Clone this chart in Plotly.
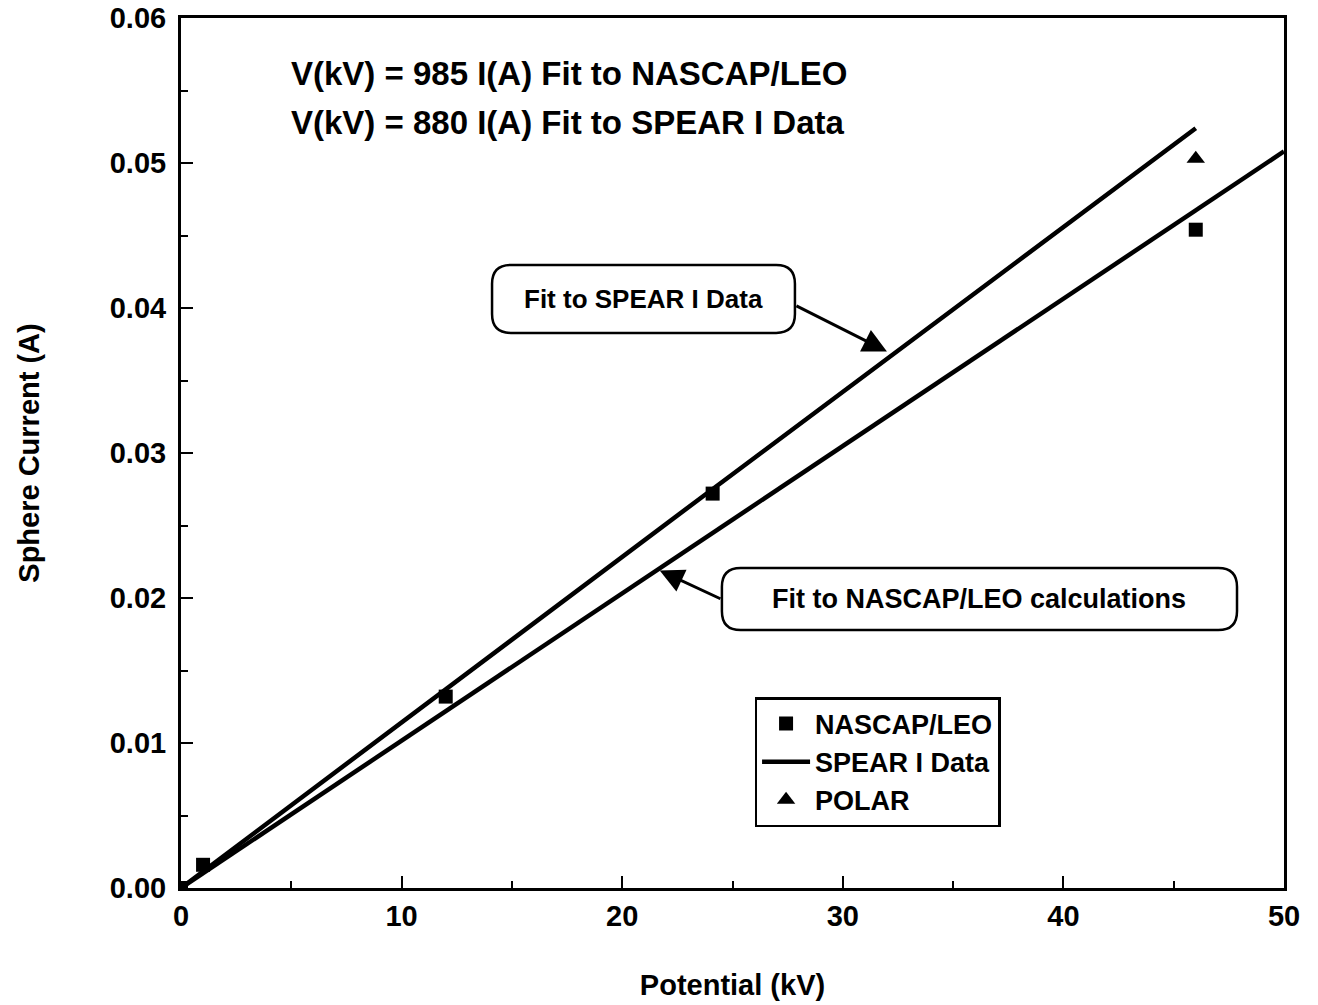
import plotly.graph_objects as go

# ---- data ----
nascap_kv = [0, 1, 12, 24.1, 46]
nascap_a = [0.0, 0.0016, 0.0132, 0.0272, 0.0454]

polar_kv = [46]
polar_a = [0.0503]

spear_fit_kv = [0, 12, 24, 46]
spear_fit_a = [0.0, 0.0137, 0.0274, 0.0524]

nascap_fit_kv = [0, 50]
nascap_fit_a = [0.0, 0.0508]

x_ticks = [0, 10, 20, 30, 40, 50]
y_ticks = [0.00, 0.01, 0.02, 0.03, 0.04, 0.05, 0.06]

FONT = "Liberation Sans"
BLACK = "black"

fig = go.Figure()

fig.add_trace(go.Scatter(x=nascap_fit_kv, y=nascap_fit_a, mode="lines",
                         line=dict(color=BLACK, width=4.5), showlegend=False,
                         name="Fit to NASCAP/LEO"))
fig.add_trace(go.Scatter(x=nascap_kv, y=nascap_a, mode="markers", name="NASCAP/LEO",
                         marker=dict(symbol="square", size=14, color=BLACK)))
fig.add_trace(go.Scatter(x=spear_fit_kv, y=spear_fit_a, mode="lines", name="SPEAR I Data",
                         line=dict(color=BLACK, width=4.5)))
fig.add_trace(go.Scatter(x=polar_kv, y=polar_a, mode="markers", name="POLAR",
                         marker=dict(symbol="triangle-up", size=16, color=BLACK)))


def rounded_box(x0, x1, y0, y1, rx, ry):
    return (f"M {x0+rx},{y0} L {x1-rx},{y0} Q {x1},{y0} {x1},{y0+ry} "
            f"L {x1},{y1-ry} Q {x1},{y1} {x1-rx},{y1} "
            f"L {x0+rx},{y1} Q {x0},{y1} {x0},{y1-ry} "
            f"L {x0},{y0+ry} Q {x0},{y0} {x0+rx},{y0} Z")


boxes = [
    dict(x0=14.1, x1=27.83, y0=0.03828, y1=0.04297, text="Fit to SPEAR I Data", size=26,
         tail=(27.83, 0.0402), head=(32.0, 0.0370)),
    dict(x0=24.52, x1=47.87, y0=0.01779, y1=0.02207, text="Fit to NASCAP/LEO calculations",
         size=27, tail=(24.52, 0.0199), head=(21.7, 0.0219)),
]

for b in boxes:
    fig.add_shape(type="path", xref="x", yref="y",
                  path=rounded_box(b["x0"], b["x1"], b["y0"], b["y1"], 0.85, 0.0013),
                  line=dict(color=BLACK, width=2.5), fillcolor="white")
    fig.add_annotation(x=(b["x0"] + b["x1"]) / 2, y=(b["y0"] + b["y1"]) / 2,
                       text=b["text"], showarrow=False,
                       font=dict(family=FONT, size=b["size"], color=BLACK, weight="bold"))
    fig.add_annotation(x=b["head"][0], y=b["head"][1], ax=b["tail"][0], ay=b["tail"][1],
                       axref="x", ayref="y", xref="x", yref="y", text="",
                       showarrow=True, arrowhead=2, arrowsize=1.6, arrowwidth=3,
                       arrowcolor=BLACK)

fig.add_annotation(x=17.63, y=0.0562, text="V(kV) = 985 I(A) Fit to NASCAP/LEO",
                   showarrow=False, font=dict(family=FONT, size=33, color=BLACK, weight="bold"))
fig.add_annotation(x=17.55, y=0.0528, text="V(kV) = 880 I(A) Fit to SPEAR I Data",
                   showarrow=False, font=dict(family=FONT, size=33, color=BLACK, weight="bold"))

axis_common = dict(showline=True, linecolor=BLACK, linewidth=3, mirror=True,
                   showgrid=False, zeroline=False, ticks="inside", ticklen=12,
                   tickwidth=2, tickcolor=BLACK,
                   tickfont=dict(family=FONT, size=29, color=BLACK, weight="bold"))

fig.update_xaxes(range=[0, 50], tickvals=x_ticks, ticktext=[str(v) for v in x_ticks],
                 minor=dict(ticks="inside", ticklen=7, tickwidth=2, dtick=5, tickcolor=BLACK),
                 title=dict(text="Potential (kV)", standoff=44,
                            font=dict(family=FONT, size=29, color=BLACK, weight="bold")),
                 **axis_common)
fig.update_yaxes(range=[0, 0.06], tickvals=y_ticks, ticktext=[f"{v:.2f}" for v in y_ticks],
                 minor=dict(ticks="inside", ticklen=7, tickwidth=2, dtick=0.005, tickcolor=BLACK),
                 ticklabelstandoff=6,
                 title=dict(text="Sphere Current (A)", standoff=62,
                            font=dict(family=FONT, size=29, color=BLACK, weight="bold")),
                 **axis_common)

fig.update_layout(
    width=1318, height=1005,
    margin=dict(l=181, r=34, t=18, b=117, autoexpand=False),
    paper_bgcolor="white", plot_bgcolor="white",
    legend=dict(x=0.52, y=0.2195, xanchor="left", yanchor="top",
                bordercolor=BLACK, borderwidth=2.5, bgcolor="white",
                font=dict(family=FONT, size=27, color=BLACK, weight="bold"),
                tracegroupgap=0, itemwidth=48),
    showlegend=True,
)

fig.write_html("out.html")
